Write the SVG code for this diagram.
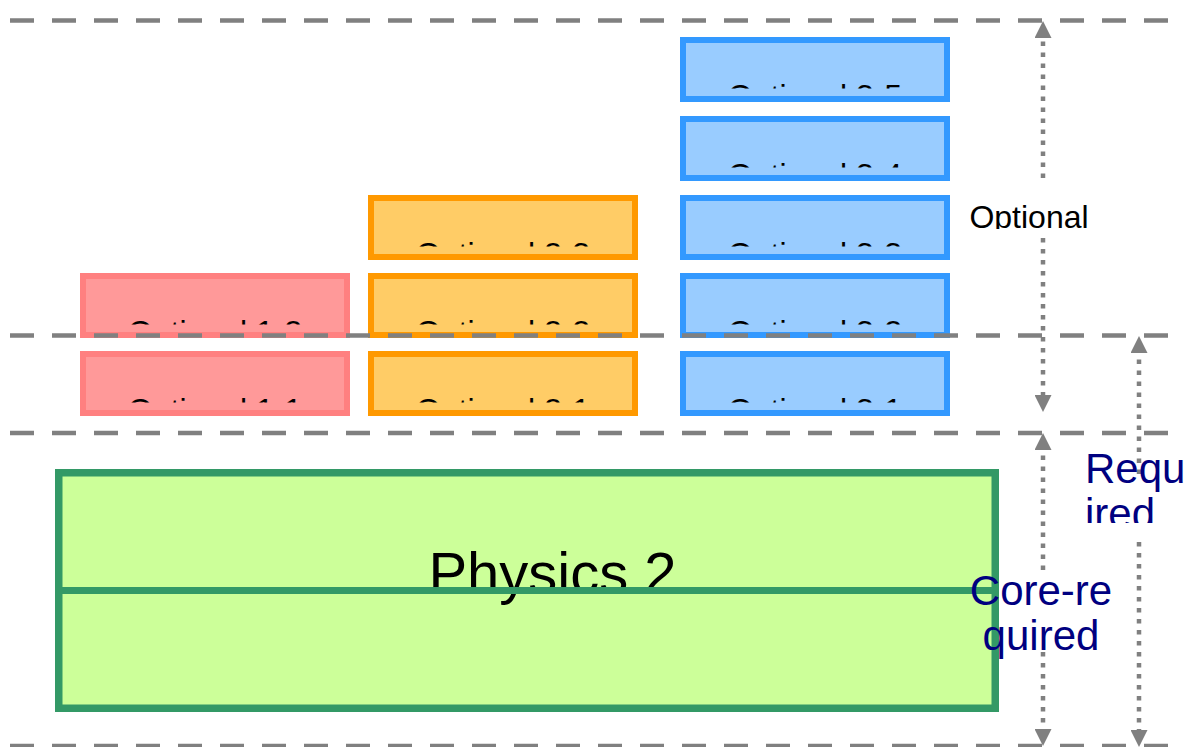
<svg xmlns="http://www.w3.org/2000/svg" width="1189" height="747" viewBox="0 0 1189 747">
<style>
  .lbl { font-family: "Liberation Sans", Arial, sans-serif; font-size: 32px; fill: #000; text-anchor: middle; }
  .red { fill: #ff9999; stroke: #ff8080; stroke-width: 6; }
  .org { fill: #ffcc66; stroke: #ff9900; stroke-width: 6; }
  .blu { fill: #99ccff; stroke: #3399ff; stroke-width: 6; }
  .guide { stroke: #808080; stroke-width: 4.5; stroke-dasharray: 24 18; fill: none; }
  .dot { stroke: #808080; stroke-width: 4.5; stroke-dasharray: 4.5 6.5; fill: none; marker-end: url(#ah); }
  .side { font-family: "Liberation Sans", Arial, sans-serif; font-size: 42px; fill: #000080; }
</style>
<defs>
  <marker id="ah" viewBox="0 0 17 17" refX="0" refY="8.5" markerWidth="17" markerHeight="17" markerUnits="userSpaceOnUse" orient="auto">
    <path d="M0,0 L17,8.5 L0,17 z" fill="#808080"/>
  </marker>
  <clipPath id="r1" clipPathUnits="userSpaceOnUse"><rect x="0" y="37" width="1189" height="51.5"/></clipPath>
  <clipPath id="r2" clipPathUnits="userSpaceOnUse"><rect x="0" y="116" width="1189" height="51.5"/></clipPath>
  <clipPath id="r3" clipPathUnits="userSpaceOnUse"><rect x="0" y="195" width="1189" height="51.5"/></clipPath>
  <clipPath id="r4" clipPathUnits="userSpaceOnUse"><rect x="0" y="273" width="1189" height="51.5"/></clipPath>
  <clipPath id="r5" clipPathUnits="userSpaceOnUse"><rect x="0" y="351" width="1189" height="51.5"/></clipPath>
  <clipPath id="copt" clipPathUnits="userSpaceOnUse"><rect x="950" y="190" width="160" height="39"/></clipPath>
  <clipPath id="creq" clipPathUnits="userSpaceOnUse"><rect x="1060" y="420" width="129" height="103"/></clipPath>
</defs>
<rect width="1189" height="747" fill="#fff"/>

<g id="opt-1-2"><rect class="red" x="83" y="276" width="264" height="59"/><text class="lbl" x="215" y="342.6" clip-path="url(#r4)">Optional 1-2</text></g>
<g id="opt-1-1"><rect class="red" x="83" y="354" width="264" height="59"/><text class="lbl" x="215" y="420.6" clip-path="url(#r5)">Optional 1-1</text></g>

<g id="opt-2-3"><rect class="org" x="371" y="198" width="264" height="59"/><text class="lbl" x="503" y="264.6" clip-path="url(#r3)">Optional 2-3</text></g>
<g id="opt-2-2"><rect class="org" x="371" y="276" width="264" height="59"/><text class="lbl" x="503" y="342.6" clip-path="url(#r4)">Optional 2-2</text></g>
<g id="opt-2-1"><rect class="org" x="371" y="354" width="264" height="59"/><text class="lbl" x="503" y="420.6" clip-path="url(#r5)">Optional 2-1</text></g>

<g id="opt-3-5"><rect class="blu" x="683" y="40" width="264" height="59"/><text class="lbl" x="815" y="106.6" clip-path="url(#r1)">Optional 3-5</text></g>
<g id="opt-3-4"><rect class="blu" x="683" y="119" width="264" height="59"/><text class="lbl" x="815" y="185.6" clip-path="url(#r2)">Optional 3-4</text></g>
<g id="opt-3-3"><rect class="blu" x="683" y="198" width="264" height="59"/><text class="lbl" x="815" y="264.6" clip-path="url(#r3)">Optional 3-3</text></g>
<g id="opt-3-2"><rect class="blu" x="683" y="276" width="264" height="59"/><text class="lbl" x="815" y="342.6" clip-path="url(#r4)">Optional 3-2</text></g>
<g id="opt-3-1"><rect class="blu" x="683" y="354" width="264" height="59"/><text class="lbl" x="815" y="420.6" clip-path="url(#r5)">Optional 3-1</text></g>

<g id="physics-2">
  <rect x="58.75" y="472.75" width="936.5" height="235.5" fill="#ccff99" stroke="#339966" stroke-width="7.5"/>
  <text x="552.5" y="593" font-family="Liberation Sans, Arial, sans-serif" font-size="58" fill="#000" text-anchor="middle">Physics 2</text>
  <line x1="55" y1="590.5" x2="999" y2="590.5" stroke="#339966" stroke-width="7"/>
</g>

<g id="guides">
  <line class="guide" x1="10" y1="20.5" x2="1170" y2="20.5"/>
  <line class="guide" x1="10" y1="335.5" x2="1170" y2="335.5"/>
  <line class="guide" x1="10" y1="433" x2="1170" y2="433"/>
  <line class="guide" x1="10" y1="746" x2="1170" y2="746"/>
</g>

<g id="connectors">
  <path class="dot" d="M1043 178 L1043 38"/>
  <path class="dot" d="M1043 238 L1043 395"/>
  <path class="dot" d="M1043 570 L1043 450"/>
  <path class="dot" d="M1043 652 L1043 729"/>
  <path class="dot" d="M1139 474 L1139 353"/>
  <path class="dot" d="M1139 542 L1139 730"/>
</g>

<g id="label-optional">
  <text x="1029" y="228.4" font-family="Liberation Sans, Arial, sans-serif" font-size="32" fill="#000" text-anchor="middle" clip-path="url(#copt)">Optional</text>
</g>
<g id="label-core-required">
  <text class="side" x="1041" y="605" text-anchor="middle">Core-re</text>
  <text class="side" x="1041" y="650" text-anchor="middle">quired</text>
</g>
<g id="label-required" clip-path="url(#creq)">
  <text class="side" x="1085" y="483">Requ</text>
  <text class="side" x="1085" y="528">ired</text>
</g>
</svg>
